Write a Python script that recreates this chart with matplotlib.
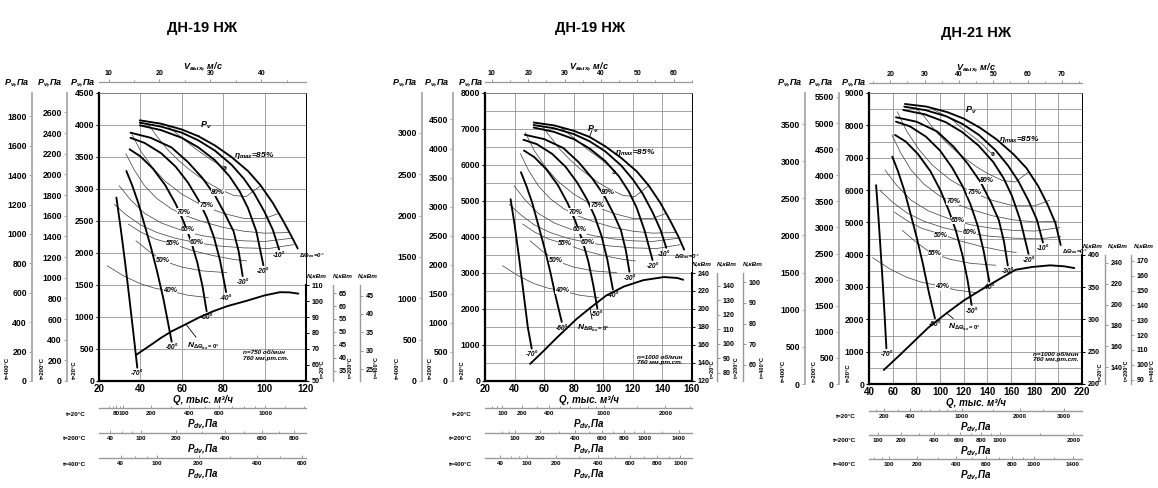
import numpy as np
import matplotlib
matplotlib.use("Agg")
import matplotlib.pyplot as plt

plt.rcParams['font.family'] = ['Liberation Sans', 'DejaVu Sans']
plt.rcParams['font.weight'] = 'bold'
plt.rcParams['mathtext.fontset'] = 'custom'
plt.rcParams['mathtext.it'] = 'Liberation Sans:italic:bold'
plt.rcParams['mathtext.rm'] = 'Liberation Sans:bold'
plt.rcParams['mathtext.bf'] = 'Liberation Sans:bold'
plt.rcParams['mathtext.default'] = 'it'

# ------------------------------------------------------------------ data
titles = ["ДН-19 НЖ", "ДН-19 НЖ", "ДН-21 НЖ"]
speed_notes = ["n=750 об/мин\n760 мм.рт.ст.", "n=1000 об/мин\n760 мм.рт.ст.",
               "n=1000 об/мин\n760 мм.рт.ст."]
vane_angles = [0, -10, -20, -30, -40, -50, -60, -70]
eff_levels = [85, 80, 75, 70, 65, 60, 55, 50, 40]
dens_ratio = {20: 1.0, 200: 293 / 473, 400: 293 / 673}
rho20 = 1.2
q_per_v = [2.46, 2.46, 2.9]          # thousand m3/h per 1 m/s of outlet velocity

# ---- panel 1 : ДН-19, 750 rpm
p1_fan_q = {0: [39.7, 50, 60, 68, 76, 84, 92, 98, 104, 109, 113, 116],
            -10: [39.7, 50, 60, 68, 76, 84, 90, 95, 100, 104, 107],
            -20: [39.7, 50, 60, 68, 76, 83, 88, 92, 96, 99.4],
            -30: [35.2, 45, 55, 63, 70, 76, 81, 85, 87.5, 89.4],
            -40: [35.2, 42, 50, 57, 63, 68, 72, 75.5, 78.5, 81.4],
            -50: [34.8, 40, 46, 52, 57, 61, 64.5, 67.5, 70, 72],
            -60: [33.2, 36, 39, 42, 45, 48, 51, 53, 55.1],
            -70: [28.4, 30.5, 32.5, 34.5, 36.5, 38.5]}
p1_fan_p = {0: [4073, 4020, 3930, 3825, 3680, 3500, 3280, 3060, 2780, 2500, 2260, 2070],
            -10: [4036, 3975, 3880, 3760, 3600, 3380, 3160, 2930, 2640, 2360, 2055],
            -20: [3995, 3920, 3800, 3650, 3450, 3200, 2960, 2700, 2340, 1810],
            -30: [3880, 3800, 3650, 3420, 3170, 2900, 2600, 2340, 2020, 1640],
            -40: [3800, 3720, 3560, 3350, 3100, 2830, 2560, 2250, 1880, 1390],
            -50: [3620, 3510, 3320, 3060, 2770, 2480, 2180, 1850, 1480, 1090],
            -60: [3282, 3060, 2780, 2440, 2100, 1720, 1300, 970, 614],
            -70: [2866, 2380, 1880, 1340, 780, 208]}
p1_eff_q = {85: [52.5, 60, 67, 74, 80.9],
            80: [43.8, 48, 53, 58, 63, 68, 73, 78, 85, 91, 98],
            75: [35.5, 40, 46, 52, 60, 70, 80, 90, 100, 107],
            70: [33, 37, 42, 48, 55, 62, 70, 80, 90, 100, 112],
            65: [29.8, 35, 42, 50, 60.7, 70, 80, 90, 100, 113],
            60: [27.4, 33, 40, 48, 57, 67, 78, 90, 102, 114],
            55: [34.2, 40, 47, 56, 65, 75, 85, 91.3],
            50: [37.9, 44, 51, 60, 70, 81.7],
            40: [24, 32, 40, 47, 54.3, 63, 72.8]}
p1_eff_p = {85: [4000, 3800, 3620, 3460, 3324],
            80: [4012, 3820, 3620, 3460, 3320, 3200, 3090, 3000, 2900, 2880, 3050],
            75: [3880, 3600, 3330, 3120, 2920, 2740, 2620, 2540, 2540, 2620],
            70: [3550, 3300, 3050, 2850, 2690, 2580, 2490, 2400, 2340, 2310, 2320],
            65: [3050, 2840, 2620, 2470, 2345, 2270, 2220, 2190, 2180, 2230],
            60: [2760, 2600, 2440, 2320, 2230, 2162, 2110, 2080, 2070, 2130],
            55: [2450, 2330, 2220, 2136, 2040, 1960, 1900, 1876],
            50: [2190, 2030, 1876, 1780, 1720, 1693],
            40: [1800, 1640, 1520, 1450, 1407, 1340, 1302]}
p1_eff_lbl = {"80%": (77.5, 2950), "75%": (71.9, 2736), "70%": (61, 2640), "65%": (63, 2360),
              "60%": (67.2, 2170), "55%": (55.8, 2150), "50%": (51, 1890), "40%": (54.3, 1420)}
p1_eta_pt = (80.9, 3324)
p1_eta_lbl = (85, 3517)
p1_pv_lbl = (71.5, 3990)
p1_n_q = [37.9, 45, 50, 55, 62, 68.8, 75, 82, 91, 100, 107.4, 112, 116.3]
p1_n_kw = [66.3, 72.5, 77, 81, 85.5, 90, 93.5, 96.8, 100, 103.5, 105.5, 105.4, 104.6]
p1_n_lbl = (62.5, 71.5)

# ---- panel 2 : ДН-19, 1000 rpm
p2_fan_q = {0: [52.9, 66.7, 80, 90.7, 101.3, 112, 122.7, 130.7, 138.7, 145.3, 150.7, 154.7],
            -10: [52.9, 66.7, 80, 90.7, 101.3, 112, 120, 126.7, 133.3, 138.7, 142.6],
            -20: [52.9, 66.7, 80, 90.7, 101.3, 110.7, 117.3, 122.7, 128, 133.3],
            -30: [46.9, 60, 73, 83.5, 92.5, 100.5, 107, 112, 115.3, 117.7],
            -40: [46, 55, 65.4, 74.5, 82.4, 89, 94.2, 98.8, 102.7, 106.5],
            -50: [46.4, 53.3, 61.3, 69.3, 76, 81.3, 86, 90, 93.3, 96],
            -60: [44.3, 48, 52, 56, 60, 64, 68, 71.9],
            -70: [37.3, 40, 43, 46, 49, 51.6]}
p2_fan_p = {0: [7180, 7100, 6950, 6780, 6520, 6200, 5820, 5430, 4940, 4450, 4020, 3650],
            -10: [7110, 7020, 6860, 6660, 6380, 5990, 5600, 5200, 4690, 4200, 3700],
            -20: [7040, 6920, 6720, 6460, 6110, 5680, 5260, 4800, 4170, 3360],
            -30: [6840, 6720, 6470, 6070, 5630, 5160, 4640, 4180, 3620, 3035],
            -40: [6700, 6580, 6310, 5950, 5510, 5040, 4570, 4030, 3380, 2543],
            -50: [6400, 6220, 5890, 5440, 4930, 4420, 3890, 3300, 2650, 2014],
            -60: [5800, 5420, 4940, 4340, 3730, 3060, 2310, 1643],
            -70: [5050, 4350, 3440, 2460, 1480, 900]}
p2_eff_q = {85: [70, 80, 89.3, 98.7, 107.5],
            80: [58.4, 64, 70.7, 77.3, 84, 90.7, 97.3, 104, 113.3, 121.3, 130.7],
            75: [47.3, 53.3, 61.3, 69.3, 80, 93.3, 106.7, 120, 133.3, 142.7],
            70: [44, 49.3, 56, 64, 73.3, 82.7, 93.3, 106.7, 120, 133.3, 149.3],
            65: [39.7, 46.7, 56, 66.7, 80.9, 93.3, 106.7, 120, 133.3, 150.7],
            60: [36.5, 44, 53.3, 64, 76, 89.3, 104, 120, 136, 152],
            55: [45.6, 53.3, 62.7, 74.7, 86.7, 100, 113.3, 121.7],
            50: [50.5, 58.7, 68, 80, 93.3, 108.9],
            40: [32, 42.7, 53.3, 62.7, 72.4, 84, 97]}
p2_eff_p = {85: [7080, 6756, 6436, 6152, 5840],
            80: [7080, 6792, 6436, 6152, 5903, 5690, 5494, 5334, 5156, 5121, 5423],
            75: [6899, 6401, 5921, 5547, 5192, 4872, 4658, 4516, 4516, 4658],
            70: [6312, 5867, 5423, 5067, 4783, 4587, 4427, 4267, 4161, 4107, 4125],
            65: [5423, 5050, 4658, 4392, 4169, 4036, 3947, 3894, 3876, 3965],
            60: [4907, 4623, 4338, 4125, 3965, 3844, 3752, 3698, 3680, 3787],
            55: [4356, 4143, 3947, 3798, 3627, 3485, 3378, 3335],
            50: [3894, 3609, 3336, 3165, 3058, 3010],
            40: [3200, 2916, 2703, 2578, 2502, 2383, 2315]}
p2_eff_lbl = {"80%": (103.3, 5245), "75%": (95.8, 4865), "70%": (81.3, 4694), "65%": (84, 4196),
              "60%": (89.6, 3858), "55%": (74.4, 3823), "50%": (68, 3360), "40%": (72.4, 2525)}
p2_eta_pt = (107, 5805)
p2_eta_lbl = (108, 6345)
p2_pv_lbl = (92.7, 7000)
p2_n_q = [50.5, 60, 68.5, 82, 91, 102, 114, 127, 141, 150, 154]
p2_n_kw = [139, 154, 168, 189, 201, 215, 225, 232, 235.5, 234.5, 232.5]
p2_n_lbl = (82.5, 178)

# ---- panel 3 : ДН-21, 1000 rpm
p3_fan_q = {0: [70.4, 88.5, 106, 120, 134, 148, 162, 173, 183, 191, 197.5, 202],
            -10: [69.8, 87.8, 105.2, 119.1, 133, 146.9, 157.4, 166.1, 174.8, 181.9, 187],
            -20: [69, 87.2, 104.7, 118.8, 132.7, 145.1, 153.8, 160.9, 167.9, 174.8],
            -30: [62.8, 80.3, 97.6, 111.7, 123.7, 134.4, 143, 149.7, 154.1, 157.3],
            -40: [62.8, 74.5, 88.1, 100, 110.3, 118.9, 125.7, 131.7, 136.8, 141.7],
            -50: [62, 71, 81.4, 91.9, 100.6, 107.5, 113.6, 118.8, 123.2, 126.7],
            -60: [59.7, 64.5, 69.7, 75, 80.2, 85.4, 90.6, 95.7],
            -70: [46, 48, 49.8, 51.6, 53.2, 54.7]}
p3_fan_p = {0: [8660, 8580, 8410, 8210, 7920, 7560, 7110, 6680, 6120, 5540, 4980, 4300],
            -10: [8577, 8470, 8280, 8040, 7700, 7230, 6760, 6280, 5670, 5080, 4376],
            -20: [8475, 8340, 8100, 7790, 7370, 6860, 6360, 5810, 5060, 4025],
            -30: [8249, 8110, 7810, 7330, 6800, 6240, 5620, 5070, 4400, 3664],
            -40: [8113, 7970, 7650, 7220, 6690, 6130, 5560, 4910, 4130, 3168],
            -50: [7702, 7500, 7110, 6580, 5970, 5360, 4720, 4010, 3230, 2446],
            -60: [7031, 6580, 6000, 5280, 4550, 3740, 2830, 2033],
            -70: [6150, 5150, 4150, 3130, 2110, 1104]}
p3_eff_q = {85: [94.5, 108, 120.6, 133.2, 144.6],
            80: [78.8, 86.4, 95.4, 104.4, 113.4, 122.4, 131.4, 140.4, 153, 163.8, 175],
            75: [63.9, 72, 82.8, 93.6, 108, 126, 144, 162, 180, 192.6],
            70: [59.4, 66.6, 75.6, 86.4, 99, 111.6, 126, 144, 162, 180, 199],
            65: [53.6, 63, 75.6, 90, 109.2, 126, 144, 162, 180, 201],
            60: [49.3, 59.4, 72, 86.4, 102.6, 120.6, 140.4, 162, 183.6, 202],
            55: [61.6, 72, 84.6, 100.8, 117, 135, 153, 164.3],
            50: [68.2, 79.2, 91.8, 108, 126, 147],
            40: [43.2, 57.6, 72, 84.6, 97.7, 113.4, 131]}
p3_eff_p = {85: [8480, 8242, 7852, 7505, 7094],
            80: [8560, 8286, 7852, 7505, 7202, 6942, 6703, 6507, 6290, 6248, 6560],
            75: [8417, 7809, 7224, 6767, 6334, 5944, 5683, 5510, 5510, 5683],
            70: [7701, 7158, 6616, 6182, 5835, 5596, 5401, 5206, 5076, 5011, 5033],
            65: [6616, 6161, 5683, 5358, 5086, 4924, 4815, 4751, 4729, 4837],
            60: [5987, 5640, 5292, 5033, 4837, 4690, 4577, 4512, 4490, 4560],
            55: [5314, 5054, 4815, 4634, 4425, 4252, 4121, 4069],
            50: [4751, 4403, 4070, 3861, 3731, 3672],
            40: [3904, 3558, 3298, 3145, 3052, 2907, 2824]}
p3_eff_lbl = {"80%": (140, 6300), "75%": (129, 5920), "70%": (111, 5650), "65%": (115, 5050),
              "60%": (125, 4690), "50%": (101, 4600), "55%": (96, 4050), "40%": (102, 3000)}
p3_eta_pt = (144.6, 7094)
p3_eta_lbl = (150, 7566)
p3_pv_lbl = (126.5, 8476)
p3_n_q = [52.5, 65, 76.4, 90, 105.6, 120, 134.8, 150, 163.9, 178, 193, 205, 213.5]
p3_n_kw = [221.7, 243, 263, 287, 309.6, 329, 345.7, 362, 376.7, 381, 383.5, 382, 379.3]
p3_n_lbl = (107, 287)

# ---- axis scales
q_lims = [(20, 120), (20, 160), (40, 220)]
q_ticks = [list(range(20, 121, 20)), list(range(20, 161, 20)), list(range(40, 221, 20))]
p_lims = [(0, 4500), (0, 8000), (0, 9000)]
p_ticks = [list(range(0, 4501, 500)), list(range(0, 8001, 1000)), list(range(0, 9001, 1000))]
p_grid = [list(range(0, 4501, 500)), list(range(0, 8001, 500)), list(range(0, 9001, 500))]
pv400_ticks = [list(range(0, 1801, 200)), list(range(0, 3001, 500)), list(range(0, 3501, 500))]
pv200_ticks = [list(range(0, 2601, 200)), list(range(0, 4501, 500)), list(range(0, 5501, 500))]
v_ticks = [[10, 20, 30, 40], [10, 20, 30, 40, 50, 60], [20, 30, 40, 50, 60, 70]]
v_minor = [list(range(10, 46, 5)), list(range(10, 66, 5)), list(range(15, 76, 5))]
n_range = [(50, 110), (120, 240), (200, 400)]     # N at 20°C, drawn over 0..n_span Pa
n_span = [1500, 3000, 4000]
n20_ticks = [list(range(50, 111, 10)), list(range(120, 241, 20)), list(range(200, 401, 50))]
n200_ticks = [list(range(35, 66, 5)), list(range(80, 141, 10)), list(range(140, 241, 20))]
n400_ticks = [list(range(25, 46, 5)), list(range(60, 101, 10)), list(range(90, 171, 10))]
pdv_major = [{20: [80, 100, 200, 400, 600, 1000], 200: [40, 100, 200, 400, 600, 800],
              400: [40, 100, 200, 400, 600]},
             {20: [100, 200, 400, 1000, 2000], 200: [100, 200, 400, 600, 800, 1000, 1400],
              400: [40, 100, 200, 400, 600, 800, 1000]},
             {20: [200, 400, 1000, 2000, 3000], 200: [100, 200, 400, 600, 800, 1000, 2000],
              400: [100, 200, 400, 600, 800, 1000, 1400]}]
pdv_minor = [{20: [60, 70, 90, 300, 500, 700, 800, 900, 1200, 1400], 200: [60, 80, 300, 500, 700],
              400: [60, 80, 300, 500]},
             {20: [60, 80, 300, 500, 600, 700, 800, 900, 1500, 2500],
              200: [60, 80, 300, 500, 700, 900, 1200], 400: [60, 80, 300, 500, 700, 900]},
             {20: [100, 150, 300, 500, 600, 700, 800, 900, 1500, 2500],
              200: [300, 500, 700, 900, 1500], 400: [60, 80, 300, 500, 700, 900, 1200]}]

panels = []
for src in [
        (p1_fan_q, p1_fan_p, p1_eff_q, p1_eff_p, p1_eff_lbl, p1_eta_pt, p1_eta_lbl, p1_pv_lbl,
         p1_n_q, p1_n_kw, p1_n_lbl),
        (p2_fan_q, p2_fan_p, p2_eff_q, p2_eff_p, p2_eff_lbl, p2_eta_pt, p2_eta_lbl, p2_pv_lbl,
         p2_n_q, p2_n_kw, p2_n_lbl),
        (p3_fan_q, p3_fan_p, p3_eff_q, p3_eff_p, p3_eff_lbl, p3_eta_pt, p3_eta_lbl, p3_pv_lbl,
         p3_n_q, p3_n_kw, p3_n_lbl)]:
    keys = ['fan_q', 'fan_p', 'eff_q', 'eff_p', 'eff_lbl', 'eta_pt', 'eta_lbl', 'pv_lbl',
            'n_q', 'n_kw', 'n_lbl']
    panels.append(dict(zip(keys, src)))

# ------------------------------------------------------------------ layout (pixels)
W, H = 1158, 488
layouts = [
    dict(box=(99, 306, 93, 381), pv_x=(32, 67), pv_lbl_x=(17, 50, 83), tl_x=(7, 42, 74),
         n_x=(306, 333, 360), n_lbl_x=(317, 343, 368), n_t_x=(323, 350, 377),
         pdv_y=(408, 433, 458), v_y=82, title=(202, 28), note=(0.695, 0.07), n_t_y=378,
         zero_ha='left', zero_dx=1, ten_dx=0),
    dict(box=(485, 692, 93, 381), pv_x=(422, 453), pv_lbl_x=(405, 437, 471), tl_x=(397, 430, 462),
         n_x=(692, 717, 743), n_lbl_x=(702, 727, 753), n_t_x=(712, 737, 763),
         pdv_y=(408, 433, 458), v_y=82, title=(590, 28), note=(0.735, 0.055), n_t_y=378,
         zero_ha='right', zero_dx=11, ten_dx=-2),
    dict(box=(869, 1082, 93, 384), pv_x=(805, 839), pv_lbl_x=(790, 821, 854), tl_x=(783, 814, 848),
         n_x=(1082, 1105, 1131), n_lbl_x=(1093, 1118, 1144), n_t_x=(1100, 1127, 1153),
         pdv_y=(411, 435, 459), v_y=83, title=(976, 33), note=(0.77, 0.075), n_t_y=381,
         zero_ha='left', zero_dx=1, ten_dx=0),
]

fig = plt.figure(figsize=(W / 100, H / 100), dpi=100)


def ftext(x, y, s, **kw):
    return fig.text(x / W, 1 - y / H, s, **kw)


def style_axis(sec, side, color, lw, fs, length=2.0, direction='out', pad=1.5):
    sec.spines[side].set_color(color)
    sec.spines[side].set_linewidth(lw)
    which_axis = 'x' if side in ('top', 'bottom') else 'y'
    sec.tick_params(axis=which_axis, which='both', colors='black', labelsize=fs,
                    length=length, width=0.7, direction=direction, pad=pad)
    sec.tick_params(axis=which_axis, which='both', color=color)
    sec.tick_params(axis=which_axis, which='minor', length=length * 0.7)


for i in range(3):
    L = layouts[i]
    D = panels[i]
    x0, x1, yt, yb = L['box']
    bw, bh = x1 - x0, yb - yt
    ax = fig.add_axes([x0 / W, 1 - yb / H, bw / W, bh / H])
    ax.set_xlim(*q_lims[i])
    ax.set_ylim(*p_lims[i])
    ax.set_xticks(q_ticks[i])
    ax.set_yticks(p_ticks[i])
    ax.set_yticks(p_grid[i], minor=True)
    ax.grid(True, which='both', color='#8a8a8a', lw=0.55)
    ax.set_axisbelow(True)
    ax.tick_params(axis='x', labelsize=7, length=0, pad=2)
    ax.tick_params(axis='y', which='major', labelsize=6.2, length=2, width=0.8, pad=1.5)
    ax.tick_params(axis='y', which='minor', length=0)
    for s in ('left', 'bottom'):
        ax.spines[s].set_linewidth(1.6)
    ax.spines['top'].set_linewidth(0.6)
    ax.spines['top'].set_color('#777777')
    ax.spines['right'].set_linewidth(0.7)

    # fan pressure curves
    for ang in vane_angles:
        q = D['fan_q'][ang]
        p = D['fan_p'][ang]
        ax.plot(q, p, color='black', lw=1.35, solid_joinstyle='round', solid_capstyle='round', zorder=4)
        if ang == 0:
            ax.annotate(r"$\Delta\Theta_{вх}$=0°", xy=(q[-1], p[-1]), xytext=(L['zero_dx'], -1.5),
                        textcoords='offset points', fontsize=4.4, style='italic',
                        ha=L['zero_ha'], va='top')
        else:
            dx = L['ten_dx'] if ang == -10 else 0
            ax.annotate(f"{ang}°", xy=(q[-1], p[-1]), xytext=(dx, -2),
                        textcoords='offset points', fontsize=4.8, style='italic', ha='center', va='top')
    # efficiency curves
    for lvl in eff_levels:
        ax.plot(D['eff_q'][lvl], D['eff_p'][lvl], color='#4a4a4a', lw=0.55, zorder=3)
    for txt, (q, p) in D['eff_lbl'].items():
        ax.text(q, p, txt, fontsize=5, style='italic', ha='center', va='center', zorder=5,
                bbox=dict(fc='white', ec='none', pad=0.1))
    ax.text(D['eta_pt'][0], D['eta_pt'][1], "э", fontsize=5, ha='center', va='center', zorder=5)
    ax.text(D['eta_lbl'][0], D['eta_lbl'][1], r"$\eta_{max}$=85%", fontsize=6, style='italic',
            ha='left', va='center', zorder=5)
    q0 = D['fan_q'][0]
    p0 = D['fan_p'][0]
    ax.annotate(r"$P_v$", xy=(q0[3], p0[3]), xytext=D['pv_lbl'], fontsize=6.5, ha='center',
                va='center', arrowprops=dict(arrowstyle='-', lw=0.6, color='black',
                                             shrinkA=1, shrinkB=0), zorder=5)
    ax.text(L['note'][0], L['note'][1], speed_notes[i], transform=ax.transAxes, fontsize=4.6,
            style='italic', ha='left', va='bottom', linespacing=1.1)

    # power curve on an overlaid axis
    n0, n1 = n_range[i]
    axn = ax.twinx()
    axn.set_ylim(n0, n0 + (n1 - n0) * p_lims[i][1] / n_span[i])
    axn.plot(D['n_q'], D['n_kw'], color='black', lw=1.35, solid_capstyle='round', zorder=4)
    axn.annotate(r"$N_{\Delta\Theta_{вх}=0°}$", xy=(D['n_q'][4], D['n_kw'][4]), xytext=D['n_lbl'],
                 fontsize=6, ha='left', va='center',
                 arrowprops=dict(arrowstyle='-', lw=0.6, color='black', shrinkA=1, shrinkB=0))
    for s in ('left', 'top', 'bottom'):
        axn.spines[s].set_visible(False)
    axn.spines['right'].set_bounds(n0, n1)
    axn.set_yticks(n20_ticks[i])
    style_axis(axn, 'right', 'black', 1.5, 5.1, length=2.5, pad=1.5)
    for kk, t in ((1, 200), (2, 400)):
        kr = dens_ratio[t]
        loc = (L['n_x'][kk] - x0) / bw
        sec = axn.secondary_yaxis(loc, functions=(lambda n, kr=kr: n * kr, lambda n, kr=kr: n / kr))
        sec.spines['right'].set_bounds(n0 * kr, n1 * kr)
        sec.set_yticks(n200_ticks[i] if t == 200 else n400_ticks[i])
        style_axis(sec, 'right', '#9a9a9a', 1.0, 5.1, length=2.5, pad=1.5)
    n_top_px = yb - bh * n_span[i] / p_lims[i][1]
    for kk, t in enumerate((20, 200, 400)):
        ftext(L['n_lbl_x'][kk], n_top_px - 9, "N,кВт", fontsize=4.6, style='italic',
              ha='center', va='center')
        ftext(L['n_t_x'][kk], L['n_t_y'], f"t={t}°C", fontsize=4.0, rotation=90, ha='center',
              va='bottom')

    # left pressure scales for hot gas
    for kk, t in ((0, 400), (1, 200)):
        kr = dens_ratio[t]
        loc = (L['pv_x'][kk] - x0) / bw
        sec = ax.secondary_yaxis(loc, functions=(lambda p, kr=kr: p * kr, lambda p, kr=kr: p / kr))
        sec.set_yticks(pv400_ticks[i] if t == 400 else pv200_ticks[i])
        style_axis(sec, 'left', '#a8a8a8', 1.3, 6.2, length=2.2, pad=1.5)
    for kk, t in enumerate((400, 200, 20)):
        ftext(L['pv_lbl_x'][kk], 82, r"$P_v$,Па", fontsize=6.5, style='italic', ha='center',
              va='center')
        ftext(L['tl_x'][kk], 379 if i < 2 else 382, f"t={t}°C", fontsize=4.2, rotation=90,
              ha='center', va='bottom')

    # outlet velocity scale on top
    a = q_per_v[i]
    vloc = 1 + (yt - L['v_y']) / bh
    secv = ax.secondary_xaxis(vloc, functions=(lambda q, a=a: q / a, lambda v, a=a: v * a))
    secv.set_xticks(v_ticks[i])
    secv.set_xticks(v_minor[i], minor=True)
    style_axis(secv, 'top', '#9a9a9a', 0.9, 5, length=2.2, pad=1.5)
    ftext((x0 + x1) / 2, L['v_y'] - 16, r"$V_{вых}$, м/с", fontsize=6.5, style='italic',
          ha='center', va='center')

    # titles and axis names
    ftext(L['title'][0], L['title'][1], titles[i], fontsize=10.5, ha='center', va='center')
    ftext((x0 + x1) / 2, yb + 19, "Q, тыс. м³/ч", fontsize=7, style='italic', ha='center',
          va='center')

    # dynamic pressure scales below
    for kk, t in enumerate((20, 200, 400)):
        rho = rho20 * dens_ratio[t]
        yl = L['pdv_y'][kk]
        loc = -(yl - yb) / bh
        fwd = (lambda q, a=a, rho=rho: rho * (np.asarray(q) / a) ** 2 / 2)
        inv = (lambda pd, a=a, rho=rho: a * np.sqrt(np.maximum(np.asarray(pd, dtype=float), 0) * 2 / rho))
        secp = ax.secondary_xaxis(loc, functions=(fwd, inv))
        secp.set_xticks(pdv_major[i][t])
        secp.set_xticks(pdv_minor[i][t], minor=True)
        style_axis(secp, 'bottom', '#9a9a9a', 1.0, 4.5, length=2.5, direction='in', pad=2.5)
        ftext(x0 - 13, yl + 6, f"t={t}°C", fontsize=4.5, ha='right', va='center')
        ftext((x0 + x1) / 2, yl + 16, r"$P_{dv}$,Па", fontsize=7, style='italic', ha='center',
              va='center')

fig.savefig("out.png", dpi=100)
